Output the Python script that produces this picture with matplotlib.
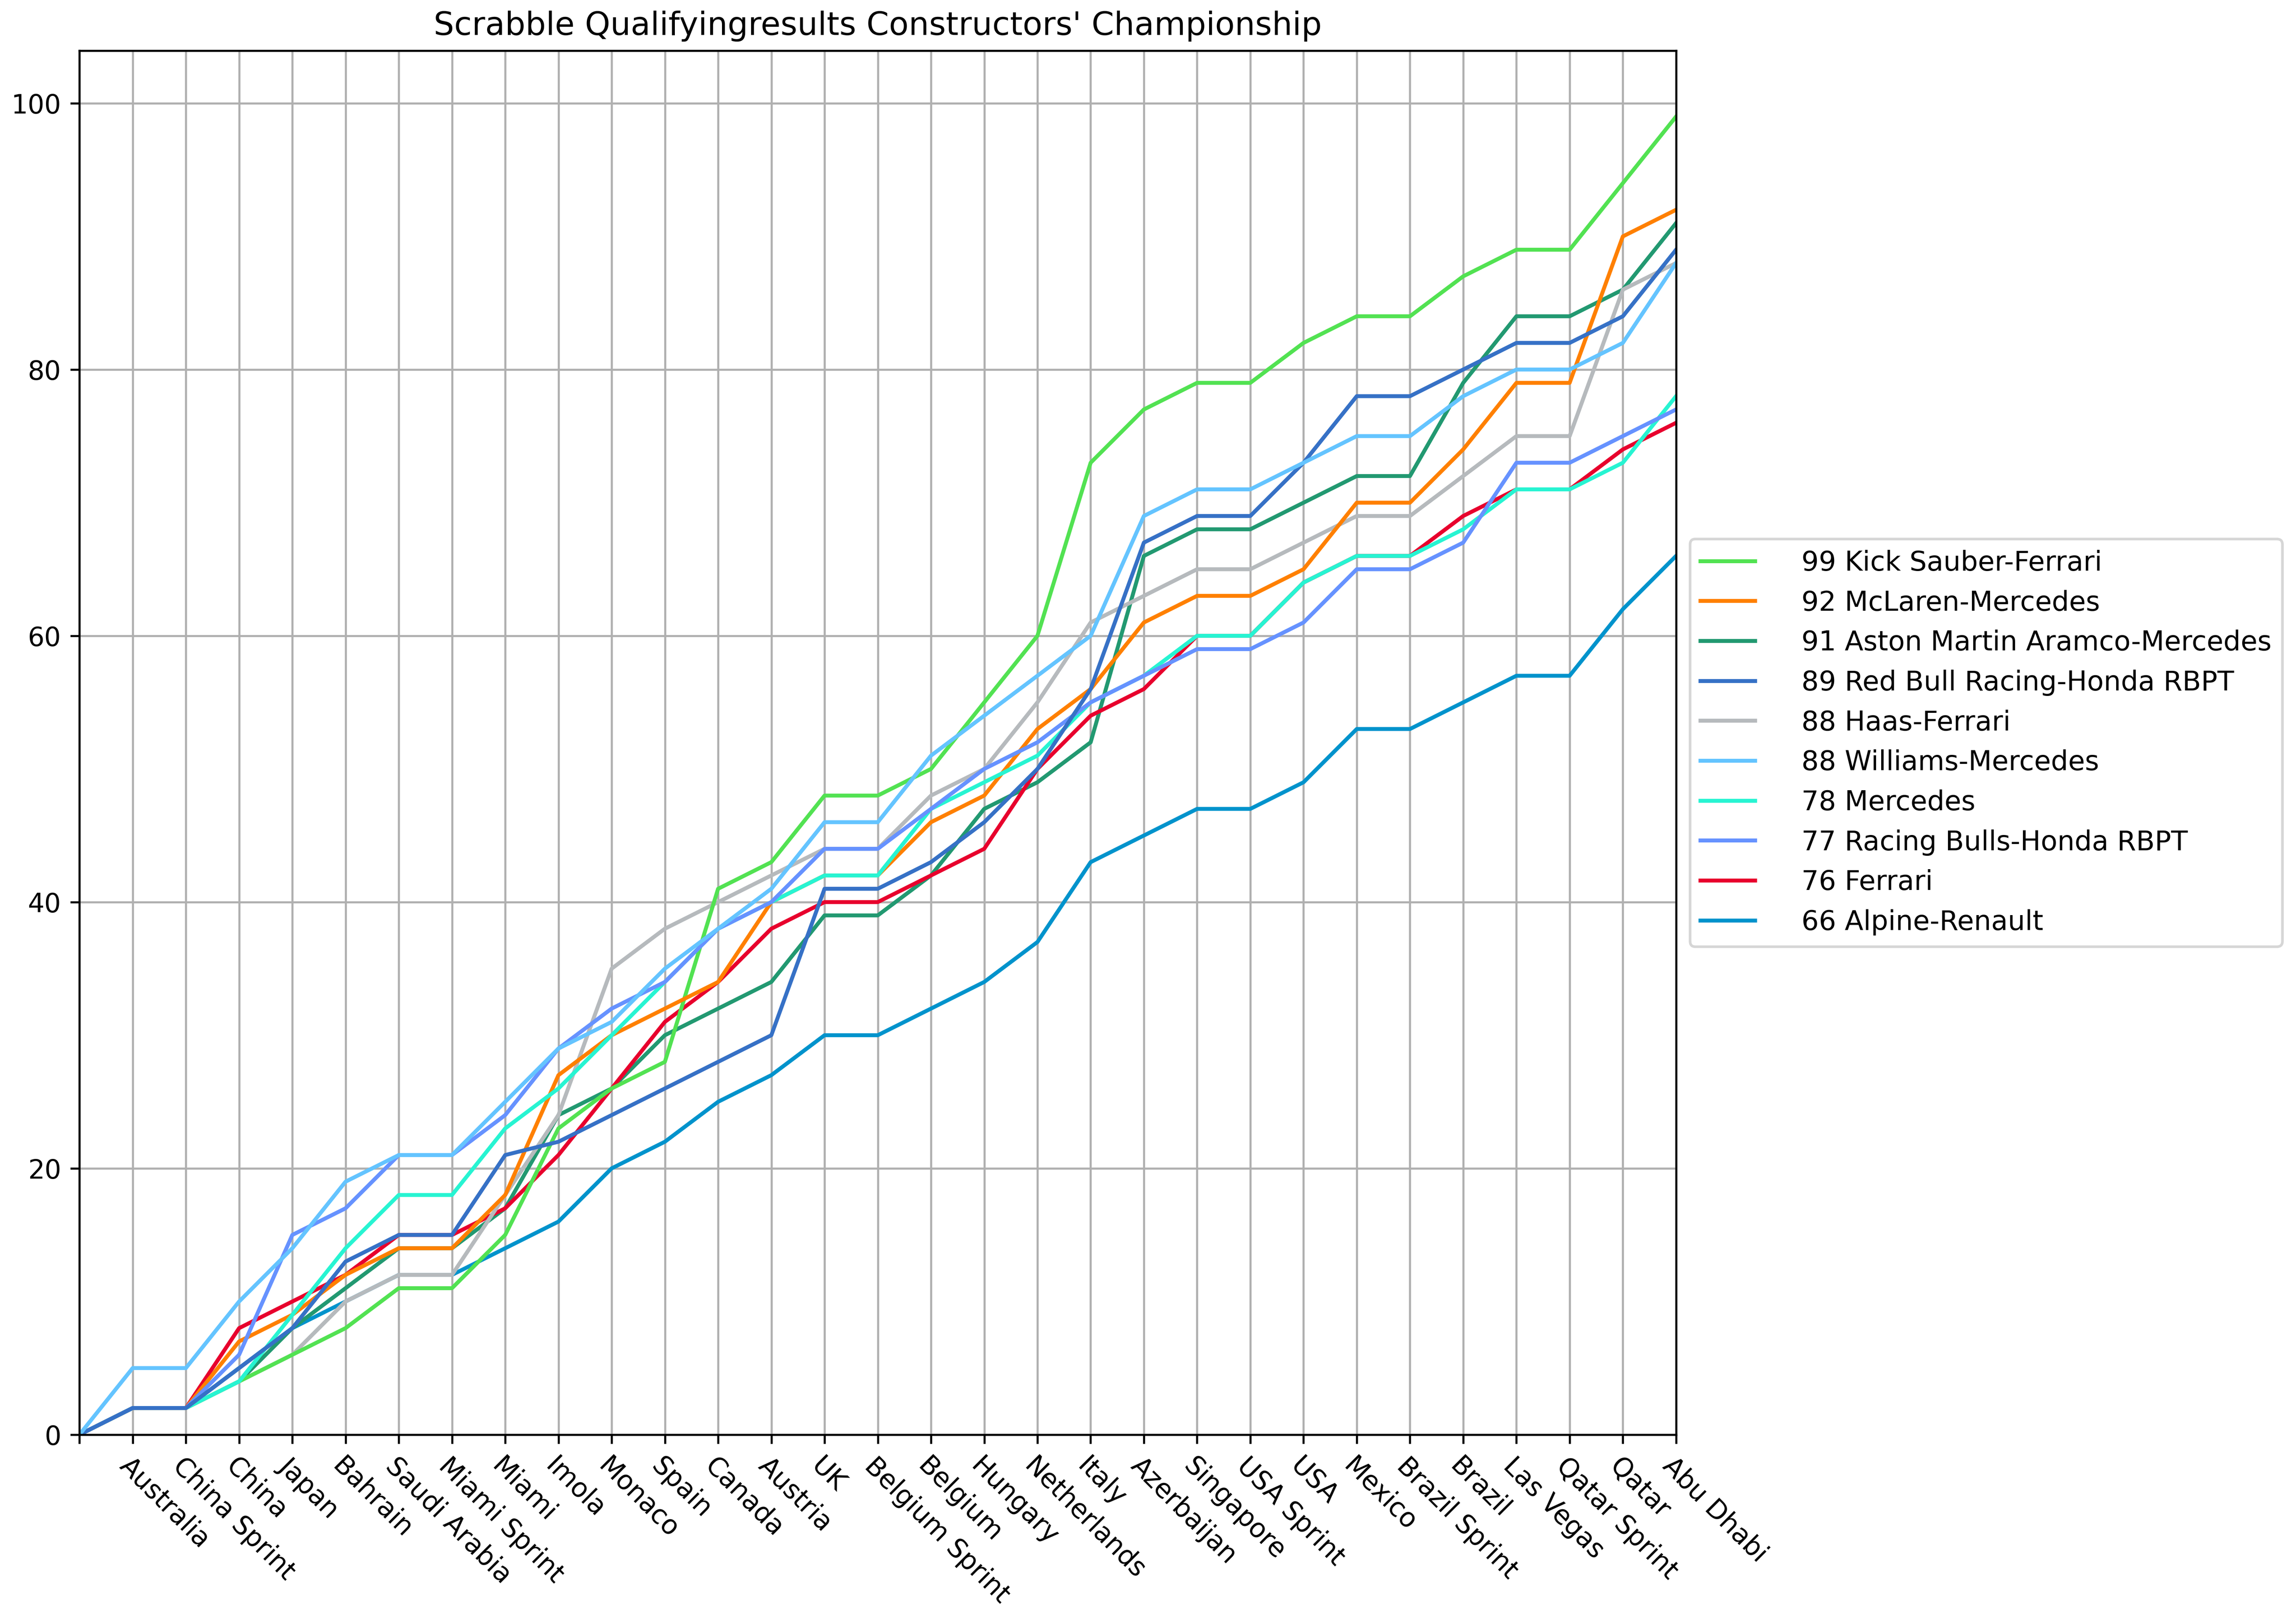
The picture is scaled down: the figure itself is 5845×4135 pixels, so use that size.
import matplotlib
matplotlib.use("Agg")
import matplotlib.pyplot as plt

races = ["", "Australia", "China Sprint", "China", "Japan", "Bahrain", "Saudi Arabia",
         "Miami Sprint", "Miami", "Imola", "Monaco", "Spain", "Canada", "Austria", "UK",
         "Belgium Sprint", "Belgium", "Hungary", "Netherlands", "Italy", "Azerbaijan",
         "Singapore", "USA Sprint", "USA", "Mexico", "Brazil Sprint", "Brazil",
         "Las Vegas", "Qatar Sprint", "Qatar", "Abu Dhabi"]

alpine = [0, 2, 2, 5, 8, 10, 12, 12, 14, 16, 20, 22, 25, 27, 30, 30, 32, 34, 37, 43, 45,
          47, 47, 49, 53, 53, 55, 57, 57, 62, 66]
aston = [0, 2, 2, 4, 8, 11, 14, 14, 17, 24, 26, 30, 32, 34, 39, 39, 42, 47, 49, 52, 66,
         68, 68, 70, 72, 72, 79, 84, 84, 86, 91]
ferrari = [0, 2, 2, 8, 10, 12, 15, 15, 17, 21, 26, 31, 34, 38, 40, 40, 42, 44, 50, 54, 56,
           60, 60, 64, 66, 66, 69, 71, 71, 74, 76]
haas = [0, 2, 2, 4, 6, 10, 12, 12, 18, 24, 35, 38, 40, 42, 44, 44, 48, 50, 55, 61, 63,
        65, 65, 67, 69, 69, 72, 75, 75, 86, 88]
kick = [0, 2, 2, 4, 6, 8, 11, 11, 15, 23, 26, 28, 41, 43, 48, 48, 50, 55, 60, 73, 77,
        79, 79, 82, 84, 84, 87, 89, 89, 94, 99]
mclaren = [0, 2, 2, 7, 9, 12, 14, 14, 18, 27, 30, 32, 34, 40, 42, 42, 46, 48, 53, 56, 61,
           63, 63, 65, 70, 70, 74, 79, 79, 90, 92]
mercedes = [0, 2, 2, 4, 9, 14, 18, 18, 23, 26, 30, 34, 38, 40, 42, 42, 47, 49, 51, 55, 57,
            60, 60, 64, 66, 66, 68, 71, 71, 73, 78]
racing_bulls = [0, 2, 2, 6, 15, 17, 21, 21, 24, 29, 32, 34, 38, 40, 44, 44, 47, 50, 52, 55,
                57, 59, 59, 61, 65, 65, 67, 73, 73, 75, 77]
red_bull = [0, 2, 2, 5, 8, 13, 15, 15, 21, 22, 24, 26, 28, 30, 41, 41, 43, 46, 50, 56, 67,
            69, 69, 73, 78, 78, 80, 82, 82, 84, 89]
williams = [0, 5, 5, 10, 14, 19, 21, 21, 25, 29, 31, 35, 38, 41, 46, 46, 51, 54, 57, 60, 69,
            71, 71, 73, 75, 75, 78, 80, 80, 82, 88]

teams = ["Alpine-Renault", "Aston Martin Aramco-Mercedes", "Ferrari", "Haas-Ferrari",
         "Kick Sauber-Ferrari", "McLaren-Mercedes", "Mercedes", "Racing Bulls-Honda RBPT",
         "Red Bull Racing-Honda RBPT", "Williams-Mercedes"]
series = [alpine, aston, ferrari, haas, kick, mclaren, mercedes, racing_bulls, red_bull, williams]
colors = ["#0093CC", "#229971", "#E8002D", "#B6BABD", "#52E252", "#FF8000", "#27F4D2",
          "#6692FF", "#3671C6", "#64C4FF"]

W, H, DPI = 5845, 4135, 480
fig = plt.figure(figsize=(W / DPI, H / DPI), dpi=DPI)
ax = fig.add_axes([0.0346, 0.1166, 0.730 - 0.0346, 0.9688 - 0.1166])

x = list(range(len(races)))
lines = []
for name, vals, col in zip(teams, series, colors):
    ln, = ax.plot(x, vals, color=col, lw=1.5, label=f"{vals[-1]} {name}")
    lines.append(ln)

ax.set_xlim(0, 30)
ax.set_ylim(0, 103.95)
ax.set_xticks(x)
ax.set_xticklabels(races, rotation=-45, ha="left", va="top", rotation_mode="anchor")
ax.grid(True)
ax.set_title("Scrabble Qualifyingresults Constructors' Championship", fontsize=12.3)

order = sorted(range(len(teams)), key=lambda i: (-series[i][-1], i))
ax.legend([lines[i] for i in order], [lines[i].get_label() for i in order],
          loc="center left", bbox_to_anchor=(1, 0.5), handletextpad=1.7,
          fontsize=10.4)

fig.savefig("out.png", dpi=DPI)
